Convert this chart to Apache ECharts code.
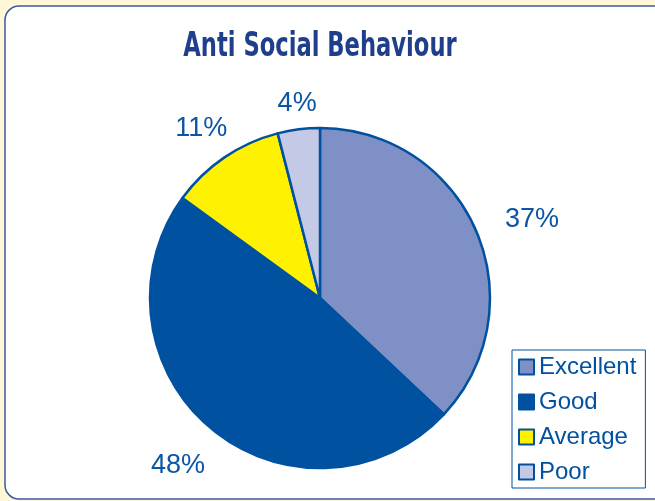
<!DOCTYPE html>
<html>
<head>
<meta charset="utf-8">
<script src="https://cdn.jsdelivr.net/npm/echarts@6/dist/echarts.min.js"></script>
<style>
  html, body { margin: 0; padding: 0; background: #fff7d6; }
  #chart { width: 655px; height: 501px; }
</style>
</head>
<body>
<div id="chart"></div>
<script>
// Survey ratings for anti social behaviour
const categories = ['Excellent', 'Good', 'Average', 'Poor'];
const shares = [37, 48, 11, 4];

const sliceColors = ['#7e90c5', '#0051a0', '#fff200', '#c4c9e6'];
const outline = '#0051a0';
const textBlue = '#0a55a5';

const cx = 320, cy = 298, radius = 170;
// distance of each percentage label from the pie centre, and a small turn (degrees) off the slice's mid-angle
const labelDist = [226, 220, 207, 196];
const labelTurn = [3.2, 0.6, -0.8, 0.5];

const total = shares.reduce((a, b) => a + b, 0);
const midAngles = [];
let acc = 0;
shares.forEach(v => {
  midAngles.push((acc + v / 2) / total * 2 * Math.PI);
  acc += v;
});

const chart = echarts.init(document.getElementById('chart'), null, { renderer: 'canvas' });

chart.setOption({
  backgroundColor: '#fff7d6',
  animation: false,
  graphic: [
    {
      type: 'rect',
      shape: { x: 5, y: 6, width: 665, height: 493, r: 14 },
      style: { fill: '#ffffff', stroke: '#3b5aa0', lineWidth: 1.5 },
      z: -10
    },
    {
      type: 'text',
      x: 320, y: 47,
      scaleX: 0.74,
      originX: 0, originY: 0,
      style: {
        text: 'Anti Social Behaviour',
        font: 'bold 34px "DejaVu Sans Condensed", "Liberation Sans", sans-serif',
        fill: '#1f3f8c',
        align: 'center',
        verticalAlign: 'middle'
      }
    }
  ],
  legend: {
    orient: 'vertical',
    left: 512,
    top: 350,
    data: categories,
    icon: 'rect',
    itemWidth: 15,
    itemHeight: 15,
    itemGap: 11,
    itemTextGap: 7,
    padding: [5, 9, 4, 6],
    itemStyle: { borderColor: outline, borderWidth: 2 },
    borderColor: outline,
    borderWidth: 1,
    backgroundColor: '#ffffff',
    selectedMode: false,
    textStyle: {
      fontFamily: '"Liberation Sans", Arial, sans-serif',
      fontSize: 24,
      lineHeight: 24,
      color: outline
    }
  },
  series: [{
    type: 'pie',
    center: [cx, cy],
    radius: radius,
    startAngle: 90,
    clockwise: true,
    silent: true,
    itemStyle: { borderColor: outline, borderWidth: 2.5 },
    label: {
      show: true,
      position: 'outside',
      formatter: p => p.value + '%',
      fontFamily: '"Liberation Sans", Arial, sans-serif',
      fontSize: 27,
      color: textBlue
    },
    labelLine: { show: false },
    labelLayout: params => {
      const i = params.dataIndex;
      const a = midAngles[i] + labelTurn[i] * Math.PI / 180;
      return {
        x: cx + Math.sin(a) * labelDist[i],
        y: cy - Math.cos(a) * labelDist[i],
        align: 'center',
        verticalAlign: 'middle'
      };
    },
    data: categories.map((name, i) => ({
      name: name,
      value: shares[i],
      itemStyle: { color: sliceColors[i] }
    }))
  }]
});
</script>
</body>
</html>
